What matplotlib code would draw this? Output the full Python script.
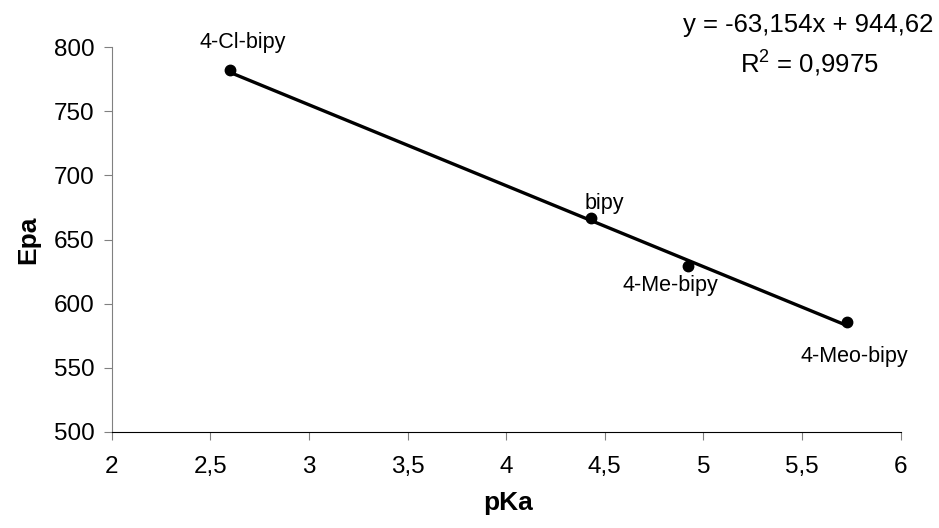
import numpy as np
import matplotlib
matplotlib.use("Agg")
import matplotlib.pyplot as plt
from matplotlib.ticker import FuncFormatter

plt.rcParams['font.family'] = ['Liberation Sans', 'DejaVu Sans']
plt.rcParams['mathtext.fontset'] = 'custom'
plt.rcParams['mathtext.rm'] = 'Liberation Sans'

# data
ligands = ['4-Cl-bipy', 'bipy', '4-Me-bipy', '4-Meo-bipy']
pka = [2.60, 4.43, 4.92, 5.73]
epa = [782, 667, 629, 586]

# linear trendline as printed on the chart
slope = -63.154
intercept = 944.62
r2 = 0.9975

# label offsets (points) relative to each point
offsets = [(9, 20), (10, 10), (-12, -14), (5, -25)]

fig = plt.figure(figsize=(9.39, 5.28), dpi=100)
ax = fig.add_axes([0.119, 0.1824, 0.84, 0.728])

xfit = np.array([min(pka), max(pka)])
ax.plot(xfit, slope * xfit + intercept, color='black', lw=2.4, zorder=2)
ax.plot(pka, epa, 'o', color='black', ms=7.5, zorder=3)

for name, x, y, off in zip(ligands, pka, epa, offsets):
    ax.annotate(name, (x, y), xytext=off, textcoords='offset points',
                ha='center', va='center', fontsize=15.5)

ax.set_xlim(2, 6)
ax.set_ylim(500, 800)
ax.set_xticks(np.arange(2, 6.01, 0.5))
ax.set_yticks(np.arange(500, 801, 50))

comma = FuncFormatter(lambda v, p: ('%g' % v).replace('.', ','))
ax.xaxis.set_major_formatter(comma)

for s in ['top', 'right']:
    ax.spines[s].set_visible(False)
ax.spines['left'].set_color('#808080')
ax.spines['bottom'].set_color('black')
ax.tick_params(axis='y', direction='out', length=5.5, color='#808080',
               labelsize=17.5, pad=7)
ax.tick_params(axis='x', direction='out', length=5.5, color='#808080',
               labelsize=17.5, pad=12)

fig.text(28 / 939, 1 - 240 / 528, 'Epa', rotation=90, ha='center', va='center',
         fontsize=19, fontweight='bold')
fig.text(508 / 939, 1 - 503 / 528, 'pKa', ha='center', va='center',
         fontsize=19, fontweight='bold')

eq = ('y = %.3f' % slope).replace('.', ',') + 'x + ' + ('%.2f' % intercept).replace('.', ',')
fig.text(808 / 939, 1 - 25 / 528, eq, ha='center', va='center', fontsize=18.5)
fig.text(809 / 939, 1 - 63 / 528, 'R$^2$ = ' + ('%.4f' % r2).replace('.', ','),
         ha='center', va='center', fontsize=18.5)

fig.savefig('out.png', dpi=100)
